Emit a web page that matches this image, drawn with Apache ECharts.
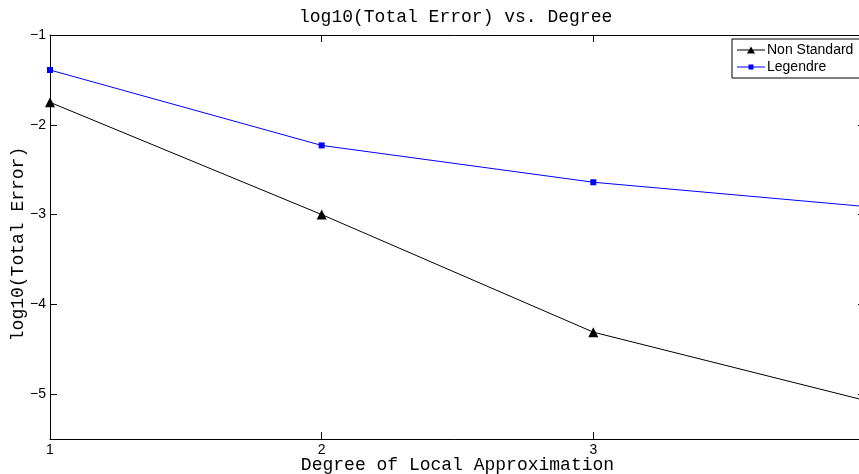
<!DOCTYPE html>
<html>
<head>
<meta charset="utf-8">
<script src="https://cdn.jsdelivr.net/npm/echarts@6/dist/echarts.min.js"></script>
<style>html,body{margin:0;padding:0;background:#fff;}#c{width:859px;height:474px;}</style>
</head>
<body>
<div id="c"></div>
<script>
const degrees = [1, 2, 3, 4];
const nonStandard = [-1.75, -3.0, -4.31, -5.07];
const legendre = [-1.39, -2.23, -2.64, -2.91];
const xTicks = [1, 2, 3, 4];
const yTicks = [-5, -4, -3, -2, -1];
const titleText = 'log10(Total Error) vs. Degree';
const xName = 'Degree of Local Approximation';
const yName = 'log10(Total Error)';

const fmt = v => v < 0 ? '\u2212' + Math.abs(v) : String(v);
const mono = '"Liberation Mono", "Courier New", monospace';
const sans = '"Liberation Sans", Arial, sans-serif';
const axisCommon = {
  axisLine: { show: true, onZero: false, lineStyle: { color: '#000', width: 1 } },
  splitLine: { show: false }
};
// legend icons: thin line + small marker, bounding box fixed to 28x10 with tiny corner dots
const corners = 'M0,0 L0.01,0 L0,0.01 Z M28,10 L27.99,10 L28,9.99 Z ';
const triIcon = 'path://' + corners + 'M0,4.5 L28,4.5 L28,5.5 L0,5.5 Z M14,1.5 L18,8.5 L10,8.5 Z';
const sqIcon = 'path://' + corners + 'M0,4.5 L28,4.5 L28,5.5 L0,5.5 Z M11.5,2.5 L16.5,2.5 L16.5,7.5 L11.5,7.5 Z';

const chart = echarts.init(document.getElementById('c'), null, { renderer: 'canvas' });
chart.setOption({
  animation: false,
  backgroundColor: '#fff',
  title: {
    text: titleText, left: 299, top: 8, padding: 0,
    textStyle: { fontFamily: mono, fontSize: 18, fontWeight: 'normal', color: '#000' }
  },
  legend: {
    orient: 'vertical', left: 732, top: 39, padding: [4, 40, 4, 5], itemGap: 3,
    itemWidth: 28, itemHeight: 10,
    borderColor: '#000', borderWidth: 1, backgroundColor: '#fff', borderRadius: 0,
    textStyle: { fontFamily: sans, fontSize: 14, color: '#000', padding: [0, 0, 0, -3] },
    data: [
      { name: 'Non Standard', icon: triIcon },
      { name: 'Legendre', icon: sqIcon }
    ]
  },
  grid: { left: 50, top: 35, width: 815, height: 404, containLabel: false, outerBoundsMode: 'none' },
  xAxis: [
    Object.assign({
      type: 'value', position: 'bottom', min: 1, max: 4, interval: 1,
      axisTick: { show: true, inside: true, length: 7, customValues: xTicks, lineStyle: { color: '#000' } },
      axisLabel: { customValues: xTicks, margin: 4, fontFamily: sans, fontSize: 14, color: '#000', formatter: fmt },
      name: xName, nameLocation: 'middle', nameGap: 17, nameMoveOverlap: false,
      nameTextStyle: { fontFamily: mono, fontSize: 18, color: '#000' }
    }, axisCommon),
    Object.assign({
      type: 'value', position: 'top', min: 1, max: 4, interval: 1,
      axisTick: { show: true, inside: true, length: 7, customValues: xTicks, lineStyle: { color: '#000' } },
      axisLabel: { show: false }
    }, axisCommon)
  ],
  yAxis: [
    Object.assign({
      type: 'value', position: 'left', min: -5.5, max: -1,
      axisTick: { show: true, inside: true, length: 7, customValues: yTicks, lineStyle: { color: '#000' } },
      axisLabel: { customValues: yTicks, margin: 4, fontFamily: sans, fontSize: 14, color: '#000', formatter: fmt },
      name: yName, nameLocation: 'middle', nameGap: 23, nameRotate: 90, nameMoveOverlap: false,
      nameTextStyle: { fontFamily: mono, fontSize: 18, color: '#000', padding: [0, 14, 0, 0] }
    }, axisCommon),
    Object.assign({
      type: 'value', position: 'right', min: -5.5, max: -1,
      axisTick: { show: true, inside: true, length: 7, customValues: yTicks, lineStyle: { color: '#000' } },
      axisLabel: { show: false }
    }, axisCommon)
  ],
  series: [
    {
      name: 'Non Standard', type: 'line', xAxisIndex: 0, yAxisIndex: 0,
      data: degrees.map((d, i) => [d, nonStandard[i]]),
      symbol: 'triangle', symbolSize: 10,
      lineStyle: { color: '#000', width: 1 }, itemStyle: { color: '#000' },
      clip: false
    },
    {
      name: 'Legendre', type: 'line', xAxisIndex: 0, yAxisIndex: 0,
      data: degrees.map((d, i) => [d, legendre[i]]),
      symbol: 'rect', symbolSize: 6,
      lineStyle: { color: '#0000ff', width: 1 }, itemStyle: { color: '#0000ff' },
      clip: false
    }
  ]
});
</script>
</body>
</html>
